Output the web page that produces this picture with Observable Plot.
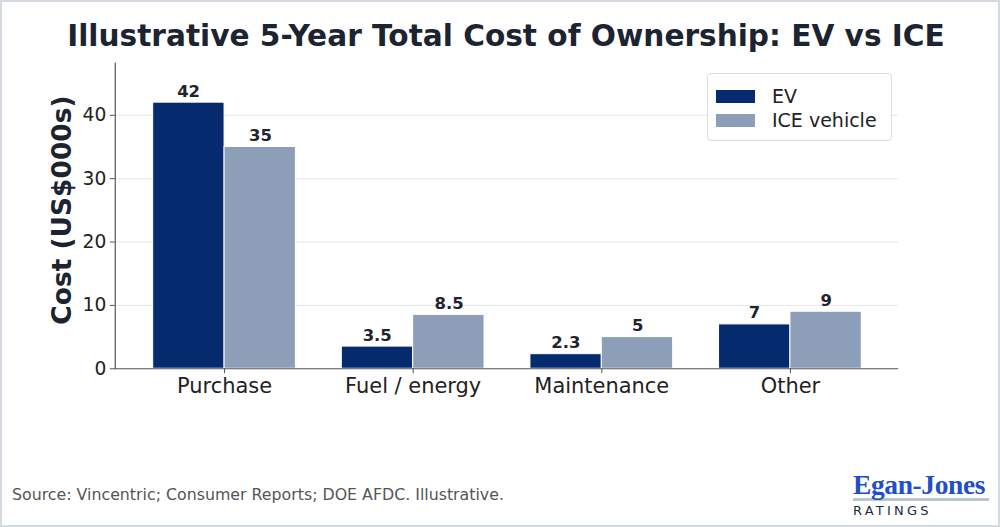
<!DOCTYPE html>
<html>
<head>
<meta charset="utf-8">
<script src="https://cdn.jsdelivr.net/npm/d3@7"></script>
<script src="https://cdn.jsdelivr.net/npm/@observablehq/plot@0.6"></script>
<style>
  html, body { margin: 0; padding: 0; background: #fff; }
  #wrap { position: relative; width: 1000px; height: 527px; box-sizing: border-box; border: 2px solid #d3dae1; overflow: hidden; font-family: "DejaVu Sans", sans-serif; }
  #chart { position: absolute; left: -2px; top: -2px; }
  #title { position: absolute; left: 4px; width: 1000px; top: 17px; text-align: center; font-size: 29.6px; font-weight: bold; color: #1c2331; }
  #legend { position: absolute; left: 705px; top: 71px; width: 183px; height: 66px; border: 1px solid #dcdcdc; border-radius: 4px; background: rgba(255,255,255,0.85); }
  .li { position: absolute; left: 8px; height: 24px; display: flex; align-items: center; font-size: 19px; color: #222; }
  .sw { width: 39px; height: 13px; margin-right: 17px; }
  #source { position: absolute; left: 10px; top: 483px; font-size: 15.8px; color: #555; }
  #logo { position: absolute; left: 851px; top: 469px; width: 136px; }
  #logo .name { font-family: "Liberation Serif", serif; font-weight: bold; font-size: 27.5px; color: #1f4fc9; line-height: 27px; letter-spacing: -0.4px; border-bottom: 3px solid #bcc4cf; white-space: nowrap; }
  #logo .sub { font-family: "DejaVu Sans", sans-serif; font-size: 13px; letter-spacing: 3.2px; color: #1e2a44; margin-top: 2px; }
</style>
</head>
<body>
<div id="wrap">
  <div id="chart"></div>
  <div id="title"></div>
  <div id="legend"></div>
  <div id="source"></div>
  <div id="logo"><div class="name">Egan-Jones</div><div class="sub">RATINGS</div></div>
</div>
<script>
const titleText = "Illustrative 5-Year Total Cost of Ownership: EV vs ICE";
const yLabel = "Cost (US$000s)";
const sourceText = "Source: Vincentric; Consumer Reports; DOE AFDC. Illustrative.";
const categories = ["Purchase", "Fuel / energy", "Maintenance", "Other"];
const seriesNames = ["EV", "ICE vehicle"];
const evValues = [42, 3.5, 2.3, 7];
const iceValues = [35, 8.5, 5, 9];
const yTicks = [0, 10, 20, 30, 40];
const colors = ["#062a6e", "#8d9fb8"];

const evData = categories.map((c, i) => ({category: c, value: evValues[i]}));
const iceData = categories.map((c, i) => ({category: c, value: iceValues[i]}));

document.getElementById("title").textContent = titleText;
document.getElementById("source").textContent = sourceText;

const legend = document.getElementById("legend");
seriesNames.forEach((s, i) => {
  const d = document.createElement("div");
  d.className = "li";
  d.style.top = (10 + i * 24) + "px";
  d.innerHTML = `<span class="sw" style="background:${colors[i]}"></span>`;
  const t = document.createElement("span");
  t.textContent = s;
  d.appendChild(t);
  legend.appendChild(d);
});

const half = 71.5;
const plot = Plot.plot({
  width: 1000,
  height: 527,
  marginLeft: 115,
  marginRight: 100,
  marginTop: 63,
  marginBottom: 158,
  style: {fontFamily: "DejaVu Sans, sans-serif", fontSize: "18px", background: "transparent", color: "#222"},
  x: {domain: categories, paddingInner: 0.2454, paddingOuter: 0.194, label: null},
  y: {domain: [0, 48.2], label: null},
  marks: [
    Plot.ruleY(yTicks.slice(1), {stroke: "#e3e6ea", strokeWidth: 1}),
    Plot.barY(evData, {x: "category", y: "value", fill: colors[0], stroke: "white", strokeWidth: 1, insetRight: half}),
    Plot.barY(iceData, {x: "category", y: "value", fill: colors[1], stroke: "white", strokeWidth: 1, insetLeft: half}),
    Plot.text(evData, {x: "category", y: "value", text: d => String(d.value), dx: -36, dy: -6, lineAnchor: "bottom", fontSize: 16.5, fontWeight: "bold", fill: "#1f2430"}),
    Plot.text(iceData, {x: "category", y: "value", text: d => String(d.value), dx: 36, dy: -6, lineAnchor: "bottom", fontSize: 16.5, fontWeight: "bold", fill: "#1f2430"}),
    Plot.axisY({ticks: yTicks, tickSize: 5, tickPadding: 4, fontSize: 18.7, stroke: "#555", fill: "#222", label: null, ariaLabel: "y-axis"}),
    Plot.axisX({tickSize: 5, tickPadding: 4, fontSize: 21, stroke: "#555", fill: "#222", label: null, ariaLabel: "x-axis"}),
    Plot.ruleY([0], {stroke: "#555", strokeWidth: 1.2}),
    Plot.frame({anchor: "left", stroke: "#555", strokeWidth: 1.2}),
    Plot.text([yLabel], {frameAnchor: "left", textAnchor: "middle", dx: -53, dy: -6, rotate: -90, fontSize: 26.5, fontWeight: "bold", fill: "#1c2331"})
  ]
});
document.getElementById("chart").appendChild(plot);
// ensure tick label sizes
plot.querySelectorAll("g[aria-label^='x-axis'] text").forEach(t => { t.style.fontSize = "21px"; });
plot.querySelectorAll("g[aria-label^='y-axis'] text").forEach(t => { t.style.fontSize = "18.7px"; });
</script>
</body>
</html>
